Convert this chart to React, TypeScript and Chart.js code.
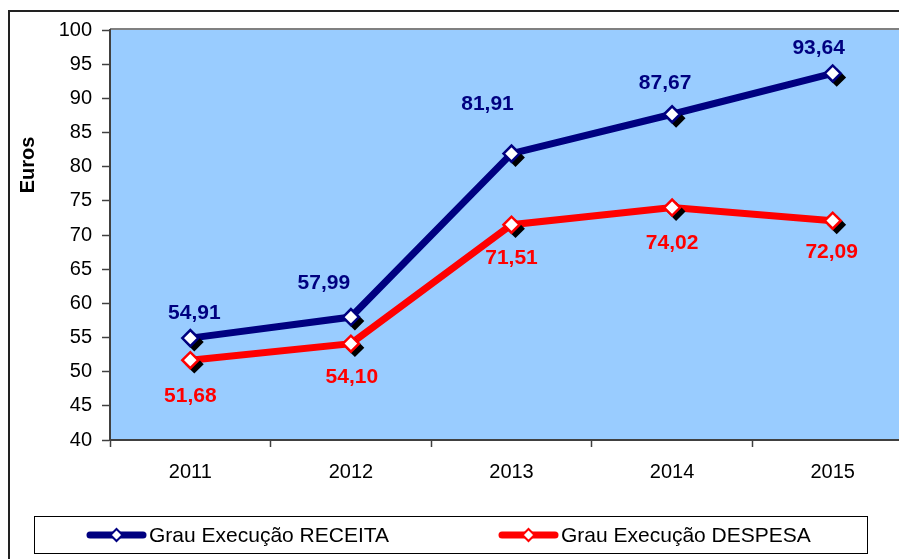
import React, { useEffect, useRef } from 'react';
import { Chart, registerables } from 'chart.js';

Chart.register(...registerables);

// ---- data ----
const categories = ['2011', '2012', '2013', '2014', '2015'];
const receita = [54.91, 57.99, 81.91, 87.67, 93.64];
const despesa = [51.68, 54.1, 71.51, 74.02, 72.09];
const seriesLabels = ['Grau Execução RECEITA', 'Grau Execução DESPESA'];
const yMin = 40;
const yMax = 100;
const yStep = 5;
const yTitle = 'Euros';

// ---- style ----
const NAVY = '#000080';
const RED = '#FF0000';
const PLOT_BG = '#99CCFF';
const FONT = "'Liberation Sans', Arial, sans-serif";
// manual label nudges (px) like the Excel original
const receitaLabelOffsets = [[4, -25], [-27, -34], [-24, -49], [-7, -31], [-14, -25]];
const despesaLabelOffsets = [[0, 36], [1, 34], [0, 34], [0, 36], [-1, 31]];

const fmt = (v: number) => v.toFixed(2).replace('.', ',');

const bgPlugin = {
  id: 'bgPlugin',
  beforeDraw(chart: any) {
    const { ctx, chartArea: a } = chart;
    ctx.save();
    ctx.fillStyle = '#ffffff';
    ctx.fillRect(0, 0, chart.width, chart.height);
    // outer frame
    ctx.strokeStyle = '#222';
    ctx.lineWidth = 2;
    ctx.strokeRect(9, 11, chart.width + 20, chart.height + 20);
    // plot background
    ctx.fillStyle = PLOT_BG;
    ctx.fillRect(a.left, a.top, a.right - a.left, a.bottom - a.top);
    // top grey border
    ctx.strokeStyle = '#808080';
    ctx.lineWidth = 2;
    ctx.beginPath();
    ctx.moveTo(a.left, a.top - 1);
    ctx.lineTo(a.right, a.top - 1);
    ctx.stroke();
    ctx.restore();
  },
};

const shadowPlugin = {
  id: 'shadowPlugin',
  beforeDatasetDraw(chart: any, args: any) {
    const ds = chart.data.datasets[args.index];
    if (ds.isShadow) {
      chart.ctx.save();
      chart.ctx.translate(4, 4);
    }
  },
  afterDatasetDraw(chart: any, args: any) {
    const ds = chart.data.datasets[args.index];
    if (ds.isShadow) chart.ctx.restore();
  },
};

const labelPlugin = {
  id: 'labelPlugin',
  afterDatasetsDraw(chart: any) {
    const { ctx } = chart;
    ctx.save();
    ctx.font = `bold 21px ${FONT}`;
    ctx.textAlign = 'center';
    ctx.textBaseline = 'middle';
    chart.data.datasets.forEach((ds: any, di: number) => {
      if (!ds.valueLabels) return;
      const meta = chart.getDatasetMeta(di);
      ctx.fillStyle = ds.borderColor;
      meta.data.forEach((pt: any, i: number) => {
        const off = ds.labelOffsets[i];
        ctx.fillText(fmt(ds.data[i]), pt.x + off[0], pt.y + off[1]);
      });
    });
    ctx.restore();
  },
};

const overlayPlugin = {
  id: 'overlayPlugin',
  afterDraw(chart: any) {
    const { ctx } = chart;
    ctx.save();
    // y-axis title
    ctx.font = `bold 20px ${FONT}`;
    ctx.fillStyle = '#000';
    ctx.textAlign = 'center';
    ctx.textBaseline = 'middle';
    ctx.translate(28, 165);
    ctx.rotate(-Math.PI / 2);
    ctx.fillText(yTitle, 0, 0);
    ctx.restore();

    // legend
    ctx.save();
    ctx.strokeStyle = '#000';
    ctx.lineWidth = 1;
    ctx.strokeRect(34.5, 516.5, 833, 37);
    const items = [
      { label: seriesLabels[0], color: NAVY, x0: 87, x1: 146 },
      { label: seriesLabels[1], color: RED, x0: 499, x1: 558 },
    ];
    const cy = 535;
    items.forEach((it) => {
      ctx.strokeStyle = it.color;
      ctx.lineWidth = 7;
      ctx.lineCap = 'round';
      ctx.beginPath();
      ctx.moveTo(it.x0 + 3, cy);
      ctx.lineTo(it.x1 - 3, cy);
      ctx.stroke();
      const cx = (it.x0 + it.x1) / 2;
      const r = 6;
      ctx.beginPath();
      ctx.moveTo(cx, cy - r);
      ctx.lineTo(cx + r, cy);
      ctx.lineTo(cx, cy + r);
      ctx.lineTo(cx - r, cy);
      ctx.closePath();
      ctx.fillStyle = '#fff';
      ctx.fill();
      ctx.lineWidth = 2;
      ctx.lineCap = 'butt';
      ctx.stroke();
      ctx.fillStyle = '#000';
      ctx.font = `21px ${FONT}`;
      ctx.textAlign = 'left';
      ctx.textBaseline = 'middle';
      ctx.fillText(it.label, it.x1 + 3, cy + 1);
    });
    ctx.restore();
  },
};

export default function App() {
  const ref = useRef<HTMLCanvasElement>(null);

  useEffect(() => {
    if (!ref.current) return;
    const series = [
      { label: seriesLabels[0], data: receita, color: NAVY, offsets: receitaLabelOffsets },
      { label: seriesLabels[1], data: despesa, color: RED, offsets: despesaLabelOffsets },
    ];
    const datasets: any[] = [];
    series.forEach((s) => {
      datasets.push({
        label: s.label,
        data: s.data,
        borderColor: s.color,
        backgroundColor: s.color,
        borderWidth: 7,
        pointRadius: 0,
        tension: 0,
        order: 3,
        valueLabels: true,
        labelOffsets: s.offsets,
      });
    });
    series.forEach((s) => {
      datasets.push({
        label: s.label + ' shadow',
        data: s.data,
        showLine: false,
        pointStyle: 'rectRot',
        pointRadius: 8,
        pointBackgroundColor: '#000',
        pointBorderColor: '#000',
        pointBorderWidth: 2,
        order: 2,
        isShadow: true,
      });
    });
    series.forEach((s) => {
      datasets.push({
        label: s.label + ' marker',
        data: s.data,
        showLine: false,
        pointStyle: 'rectRot',
        pointRadius: 8,
        pointBackgroundColor: '#fff',
        pointBorderColor: s.color,
        pointBorderWidth: 2.5,
        order: 1,
      });
    });

    const chart = new Chart(ref.current, {
      type: 'line',
      data: { labels: categories, datasets },
      options: {
        responsive: false,
        animation: false,
        devicePixelRatio: 1,
        layout: { padding: { top: 30, right: 17, left: 0, bottom: 0 } },
        plugins: { legend: { display: false }, tooltip: { enabled: false } },
        scales: {
          x: {
            type: 'category',
            offset: true,
            grid: {
              offset: true,
              drawOnChartArea: false,
              drawTicks: true,
              tickLength: 7,
              tickColor: '#404040',
              tickWidth: 1.5,
            },
            border: { display: true, color: '#404040', width: 2 },
            ticks: { color: '#000', font: { family: FONT, size: 20 }, padding: 13 },
            afterFit: (scale: any) => {
              scale.height = 119;
            },
          },
          y: {
            min: yMin,
            max: yMax,
            grid: {
              drawOnChartArea: false,
              drawTicks: true,
              tickLength: 8,
              tickColor: '#404040',
              tickWidth: 1.5,
            },
            border: { display: true, color: '#404040', width: 2 },
            ticks: {
              stepSize: yStep,
              color: '#000',
              font: { family: FONT, size: 20 },
              padding: 10,
            },
            afterFit: (scale: any) => {
              scale.width = 110;
            },
          },
        },
      },
      plugins: [bgPlugin, shadowPlugin, labelPlugin, overlayPlugin],
    } as any);
    return () => chart.destroy();
  }, []);

  return (
    <div
      style={{
        position: 'fixed',
        left: 0,
        top: 0,
        width: 899,
        height: 559,
        overflow: 'hidden',
        background: '#fff',
      }}
    >
      <canvas ref={ref} width={930} height={559} style={{ display: 'block' }} />
    </div>
  );
}
